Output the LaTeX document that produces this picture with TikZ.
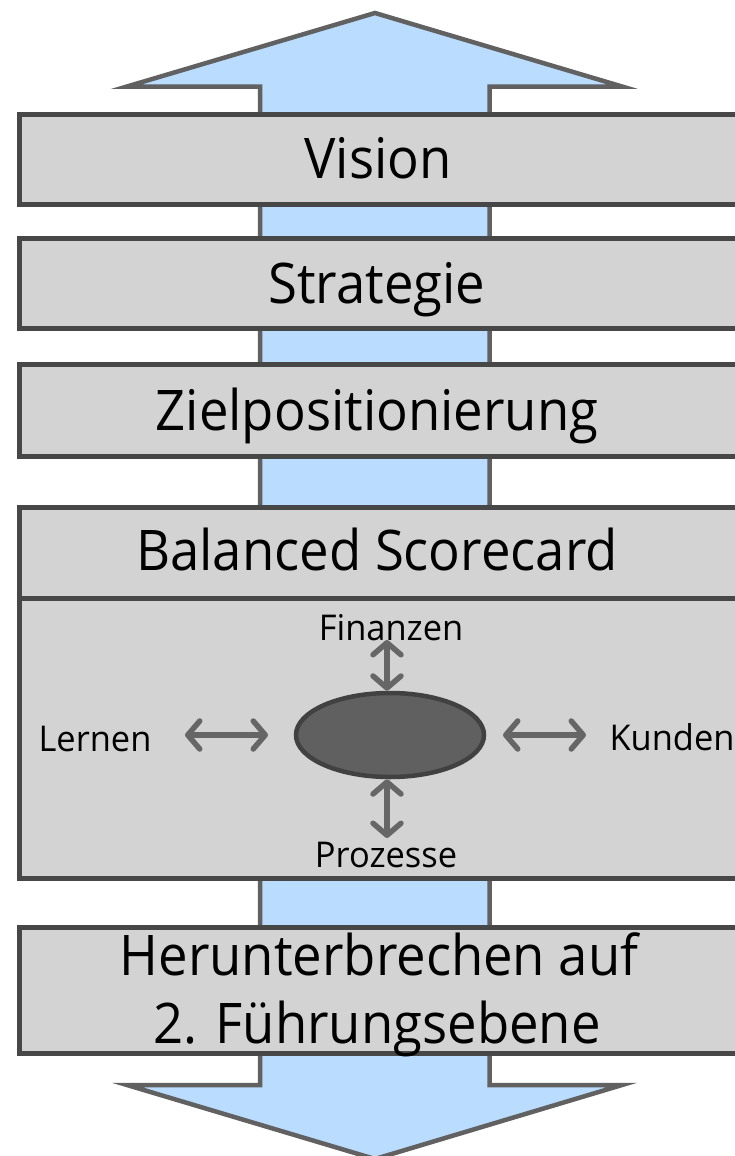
\documentclass[tikz,border=0pt]{standalone}
\usepackage{fontspec}
\setmainfont[FakeStretch=0.94]{Open Sans}
\newfontfamily\labelfont[FakeStretch=0.97]{Open Sans}
\usetikzlibrary{arrows.meta,shapes.geometric}
\definecolor{shaftblue}{HTML}{B9DCFF}
\definecolor{shaftline}{HTML}{616161}
\definecolor{boxfill}{HTML}{D3D3D3}
\definecolor{boxline}{HTML}{474747}
\definecolor{hubfill}{HTML}{606060}
\definecolor{hubline}{HTML}{414141}
\definecolor{linkgray}{HTML}{666666}
\tikzset{
  stage/.style={draw=boxline, fill=boxfill, line width=4.5pt, rectangle,
    anchor=north west, minimum width=740pt, inner sep=0pt},
  bigtext/.style={font=\fontsize{56}{68}\selectfont, anchor=base, inner sep=0pt},
  smalltext/.style={font=\labelfont\fontsize{35.5}{42}\selectfont, anchor=base, inner sep=0pt},
  barb/.tip={Straight Barb[length=12pt,width=28pt,line width=5.5pt,round]},
  link/.style={draw=linkgray, line width=5.5pt, barb-barb}
}
\begin{document}
\begin{tikzpicture}[x=1pt,y=-1pt]
\useasboundingbox (0,0) rectangle (735,1156);
% double-headed shaft behind the stages
\draw[draw=shaftline, fill=shaftblue, line width=4.5pt, miter limit=20]
  (375,13) -- (127,86.5) -- (260,86.5) -- (260,1085) -- (127,1085)
  -- (375,1159) -- (622,1085) -- (489.5,1085) -- (489.5,86.5) -- (622,86.5) -- cycle;
% stages
\node[stage, minimum height=90pt] (vision) at (17,112) {};
\node[stage, minimum height=90pt] (strategie) at (17,236) {};
\node[stage, minimum height=92pt] (ziel) at (17,362) {};
\node[stage, minimum height=91pt] (bsc) at (17,505) {};
\node[stage, minimum height=280pt] (panel) at (17,596) {};
\node[stage, minimum height=126pt] (break) at (17,925) {};
% stage labels
\node[bigtext] (tvision) at (378,178) {Vision};
\node[bigtext] (tstrategie) at (377,303) {Strategie};
\node[bigtext] (tziel) at (377,430) {Zielpositionierung};
\node[bigtext] (tbsc) at (377,570) {Balanced Scorecard};
\node[bigtext] (tbreak1) at (379,975) {Herunterbrechen auf};
\node[bigtext] (tbreak2) at (377,1043) {2. Führungsebene};
% scorecard perspectives
\node[draw=hubline, fill=hubfill, line width=4.5pt, ellipse,
  minimum width=188pt, minimum height=84pt, inner sep=0pt] (hub) at (390,735) {};
\node[smalltext] (finanzen) at (391,640) {Finanzen};
\node[smalltext] (lernen) at (95,751) {Lernen};
\node[smalltext] (kunden) at (672,750) {Kunden};
\node[smalltext] (prozesse) at (386,867) {Prozesse};
\coordinate (fTop) at (387,640);
\coordinate (pBot) at (387,838);
\coordinate (lEnd) at (185,735);
\coordinate (lHub) at (268,735);
\coordinate (kHub) at (503,735);
\coordinate (kEnd) at (586,735);
\draw[link] (fTop) -- (hub.north -| fTop);
\draw[link] (hub.south -| pBot) -- (pBot);
\draw[link] (lEnd) -- (lHub);
\draw[link] (kHub) -- (kEnd);
\end{tikzpicture}
\end{document}
